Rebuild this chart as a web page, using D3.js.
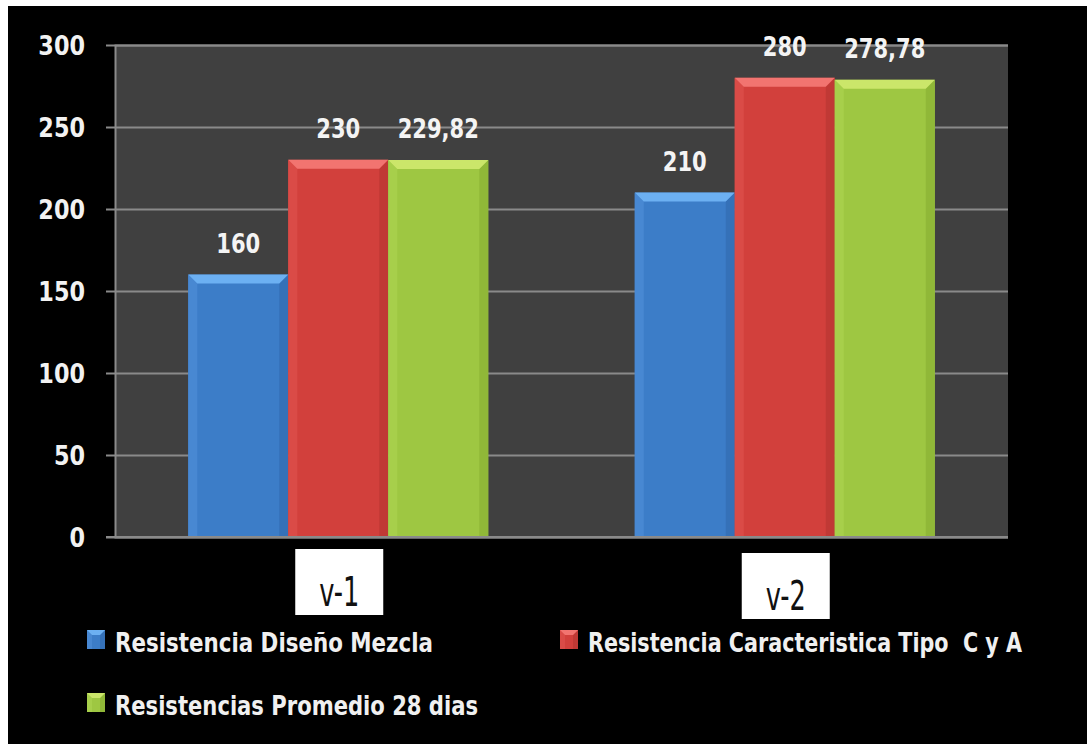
<!DOCTYPE html>
<html>
<head>
<meta charset="utf-8">
<script src="https://cdn.jsdelivr.net/npm/d3@7"></script>
<style>
  html, body { margin: 0; padding: 0; background: #ffffff; }
  svg { display: block; }
  text { white-space: pre; }
</style>
</head>
<body>
<svg id="chart" width="1087" height="744"></svg>
<script>
// Categories, series and values
const categories = ["v-1", "v-2"];
const seriesNames = [
  "Resistencia Diseño Mezcla",
  "Resistencia Caracteristica Tipo  C y A",
  "Resistencias Promedio 28 dias"
];
const disenoMezcla = [160, 210];
const caracteristica = [230, 280];
const promedio28 = [229.82, 278.78];
const valueLabels = [["160", "210"], ["230", "280"], ["229,82", "278,78"]];
const yTicks = [0, 50, 100, 150, 200, 250, 300];

const seriesValues = [disenoMezcla, caracteristica, promedio28];

// Colours: base, top bevel, left bevel, right bevel
const palette = [
  { base: "#3c7dc8", top: "#6cb0f2", left: "#4888d2", right: "#3571b8" },
  { base: "#d2403c", top: "#f27470", left: "#da4b47", right: "#c03935" },
  { base: "#9ec742", top: "#cbe66a", left: "#a7cf4b", right: "#90b838" }
];

const FONT = "'Liberation Sans Narrow', 'DejaVu Sans Condensed', 'Liberation Sans', sans-serif";

const svg = d3.select("#chart");
const W = 1087, H = 744;

// Squeeze text horizontally by a factor, keeping its anchor
function squeeze(sel, k) {
  sel.each(function () {
    const len = this.getComputedTextLength();
    d3.select(this).attr("textLength", len * k).attr("lengthAdjust", "spacingAndGlyphs");
  });
}

// Frame: thin white margin at top/left, black panel
svg.append("rect").attr("x", 0).attr("y", 0).attr("width", W).attr("height", H).attr("fill", "#ffffff");
svg.append("rect").attr("x", 8).attr("y", 6).attr("width", W - 8).attr("height", H - 6).attr("fill", "#000000");

const plot = { left: 115, right: 1008, top: 45, bottom: 537 };

const y = d3.scaleLinear().domain([0, 300]).range([plot.bottom, plot.top]);
const x0 = d3.scaleBand().domain(categories).range([plot.left, plot.right]).padding(0);
const groupW = 300;
const x1 = d3.scaleBand()
  .domain(d3.range(seriesNames.length))
  .range([x0.bandwidth() / 2 - groupW / 2, x0.bandwidth() / 2 + groupW / 2])
  .padding(0);

// Plot background
svg.append("rect")
  .attr("x", plot.left).attr("y", plot.top)
  .attr("width", plot.right - plot.left).attr("height", plot.bottom - plot.top)
  .attr("fill", "#404040");

// Y axis with gridlines
const yAxis = d3.axisLeft(y)
  .tickValues(yTicks)
  .tickSize(-(plot.right - plot.left))
  .tickPadding(30)
  .tickFormat(d3.format("d"));

const gy = svg.append("g").attr("transform", `translate(${plot.left},0)`).call(yAxis);
gy.select(".domain").attr("stroke", "#8a8a8a").attr("stroke-width", 2);
gy.selectAll(".tick line")
  .attr("stroke", "#8a8a8a").attr("stroke-width", 2)
  .attr("x1", -9);
gy.selectAll(".tick text")
  .attr("fill", "#f2f2f2")
  .attr("font-family", FONT)
  .attr("font-weight", "bold")
  .attr("font-size", 27)
  .attr("dy", "0.36em")
  .call(squeeze, 0.92);

// Beveled bar drawing
function bevelBar(g, bx, by, bw, bh, col, b) {
  g.append("rect").attr("x", bx).attr("y", by).attr("width", bw).attr("height", bh).attr("fill", col.base);
  const bb = Math.min(b, bh / 2);
  g.append("polygon")
    .attr("points", [[bx, by], [bx + bb, by + bb], [bx + bb, by + bh], [bx, by + bh]].map(p => p.join(",")).join(" "))
    .attr("fill", col.left);
  g.append("polygon")
    .attr("points", [[bx + bw, by], [bx + bw - bb, by + bb], [bx + bw - bb, by + bh], [bx + bw, by + bh]].map(p => p.join(",")).join(" "))
    .attr("fill", col.right);
  g.append("polygon")
    .attr("points", [[bx, by], [bx + bw, by], [bx + bw - bb, by + bb], [bx + bb, by + bb]].map(p => p.join(",")).join(" "))
    .attr("fill", col.top);
}

const bars = svg.append("g");
categories.forEach((cat, ci) => {
  seriesValues.forEach((vals, si) => {
    const v = vals[ci];
    const bx = x0(cat) + x1(si);
    const by = y(v);
    bevelBar(bars, bx, by, x1.bandwidth(), y(0) - by, palette[si], 9);
  });
});

// Bottom axis line
svg.append("line")
  .attr("x1", plot.left - 9).attr("x2", plot.right)
  .attr("y1", y(0)).attr("y2", y(0))
  .attr("stroke", "#8a8a8a").attr("stroke-width", 2);

// Value labels
const labels = svg.append("g");
categories.forEach((cat, ci) => {
  seriesValues.forEach((vals, si) => {
    labels.append("text")
      .attr("x", x0(cat) + x1(si) + x1.bandwidth() / 2)
      .attr("y", y(vals[ci]) - 22)
      .attr("text-anchor", "middle")
      .attr("fill", "#f4f4f4")
      .attr("font-family", FONT)
      .attr("font-weight", "bold")
      .attr("font-size", 26)
      .text(valueLabels[si][ci]);
  });
});
labels.selectAll("text").call(squeeze, 0.9);

// Category boxes under each group
const catBox = { w: 88, h: 66, top: 549 };
categories.forEach((cat, ci) => {
  const cx = x0(cat) + x0.bandwidth() / 2 + 1;
  svg.append("rect")
    .attr("x", cx - catBox.w / 2).attr("y", catBox.top + ci * 4)
    .attr("width", catBox.w).attr("height", catBox.h)
    .attr("fill", "#ffffff");
  svg.append("text")
    .attr("x", cx).attr("y", catBox.top + ci * 4 + 57)
    .attr("text-anchor", "middle")
    .attr("fill", "#111111")
    .attr("font-family", FONT)
    .attr("font-size", 40)
    .attr("textLength", 40)
    .attr("lengthAdjust", "spacingAndGlyphs")
    .text(cat);
});

// Legend
const legendCols = [87, 560];
const legendRows = [640, 703];
const legendWidths = [318, 434, 363];
seriesNames.forEach((name, i) => {
  const lx = legendCols[i % 2];
  const ly = legendRows[Math.floor(i / 2)];
  const g = svg.append("g");
  bevelBar(g, lx, ly - 10, 18, 19, palette[i], 5);
  g.append("text")
    .attr("x", lx + 28).attr("y", ly + 12)
    .attr("fill", "#f0f0f0")
    .attr("font-family", FONT)
    .attr("font-weight", "bold")
    .attr("font-size", 26)
    .attr("textLength", legendWidths[i])
    .attr("lengthAdjust", "spacingAndGlyphs")
    .text(name);
});
</script>
</body>
</html>
